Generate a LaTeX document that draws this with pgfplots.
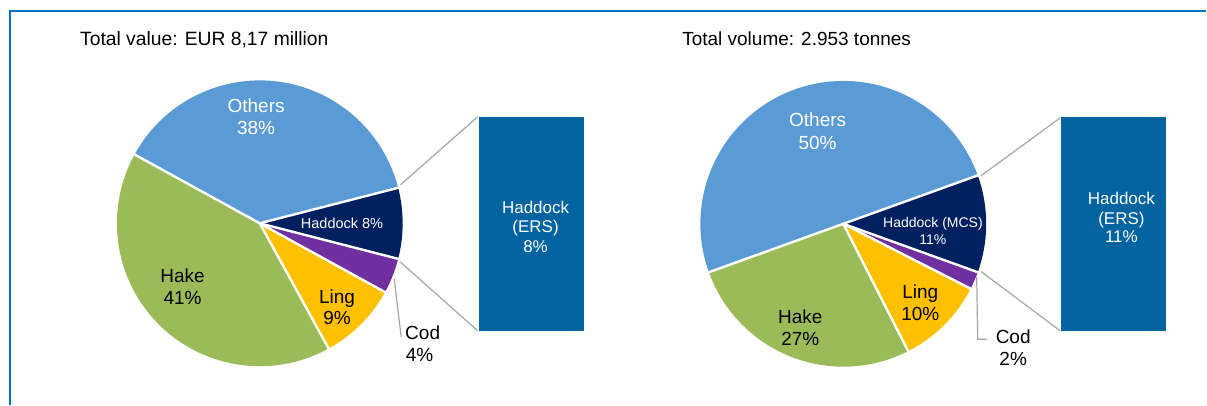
\documentclass[border=0pt]{standalone}
\usepackage{pgfplots}
\pgfplotsset{compat=1.18}
\usepackage{pgfplotstable}
\usepackage{fontspec}
\setmainfont{Liberation Sans}

\definecolor{cOth}{RGB}{91,155,213}
\definecolor{cHad}{RGB}{0,32,96}
\definecolor{cCod}{RGB}{112,48,160}
\definecolor{cLing}{RGB}{255,192,0}
\definecolor{cHake}{RGB}{155,187,89}
\definecolor{cBar}{RGB}{2,99,161}
\definecolor{cFrame}{RGB}{0,112,192}
\definecolor{cLine}{RGB}{166,166,166}

\pgfplotstableread{
name pct
Haddock 8
Cod 4
Ling 9
Hake 41
Others 38
}\valuedata
\pgfplotstableread{
name pct
Haddock 11
Cod 2
Ling 10
Hake 27
Others 50
}\volumedata

\newcommand\drawpie[3]{%
  \pgfplotstablegetelem{0}{pct}\of#1%
  \pgfmathsetmacro\pieang{\pgfplotsretval*1.8}%
  \xdef\curang{\pieang}%
  \foreach \i/\col in {0/cHad,1/cCod,2/cLing,3/cHake,4/cOth}{%
    \pgfplotstablegetelem{\i}{pct}\of#1%
    \pgfmathsetmacro\endang{\curang-\pgfplotsretval*3.6}%
    \fill[\col] (axis cs:#2,#3) -- ++(\curang:143bp) arc[start angle=\curang,end angle=\endang,radius=143bp] -- cycle;
    \xdef\curang{\endang}%
  }%
  \xdef\curang{\pieang}%
  \foreach \i in {0,...,4}{%
    \pgfplotstablegetelem{\i}{pct}\of#1%
    \pgfmathsetmacro\endang{\curang-\pgfplotsretval*3.6}%
    \draw[white,line width=2.4bp] (axis cs:#2,#3) -- ++(\curang:145bp);
    \xdef\curang{\endang}%
  }%
}

\begin{document}
\begin{tikzpicture}
\begin{axis}[
  width=1207bp, height=405bp, scale only axis,
  xmin=0, xmax=1207, ymin=0, ymax=405,
  hide axis, clip=false,
]
\addplot[fill=white, draw=none] coordinates {(0,0) (1207,0) (1207,405) (0,405)} -- cycle;
% frame
\addplot[cFrame, line width=2bp] coordinates {(10,0) (10,394) (1207,394)};

\pgfplotsextra{%
  \drawpie{\valuedata}{260}{181.5}%
  \drawpie{\volumedata}{844}{181}%
}

% secondary bars
\addplot[fill=cBar, draw=none] coordinates {(479,73.3) (584,73.3) (584,287.7) (479,287.7)} -- cycle;
\addplot[fill=cBar, draw=none] coordinates {(1062,73.3) (1167,73.3) (1167,287.5) (1062,287.5)} -- cycle;

% connector lines
\addplot[cLine, line width=1.2bp] coordinates {(400.7,220) (478,288)};
\addplot[cLine, line width=1.2bp] coordinates {(400.7,142.7) (478,74)};
\addplot[cLine, line width=1.2bp] coordinates {(981.7,229) (1061,287)};
\addplot[cLine, line width=1.2bp] coordinates {(981.7,133.3) (1061,74)};

% cod leader lines
\addplot[cLine, line width=1.2bp] coordinates {(394.5,126) (401.5,68)};
\addplot[cLine, line width=1.2bp] coordinates {(977.5,128) (978.5,65.5) (988,65.5)};

% titles
\node[anchor=base west, inner sep=0pt, font=\fontsize{19.3bp}{22.6bp}\selectfont] at (axis cs:80,359) {Total value: EUR 8,17 million};
\node[anchor=base west, inner sep=0pt, font=\fontsize{19bp}{22.6bp}\selectfont] at (axis cs:682.7,359) {Total volume: 2.953 tonnes};

% left pie labels
\begin{scope}[every node/.style={anchor=base, inner sep=0pt, font=\fontsize{19bp}{22.6bp}\selectfont}]
\node[text=white] at (axis cs:256.3,292.5) {Others};
\node[text=white] at (axis cs:256.3,269.9) {38\%};
\node[text=white, font=\fontsize{14.5bp}{17bp}\selectfont] at (axis cs:342.3,176.5) {Haddock 8\%};
\node at (axis cs:182.7,122.2) {Hake};
\node at (axis cs:182.7,99.9) {41\%};
\node at (axis cs:337.3,101.5) {Ling};
\node at (axis cs:337.3,79.9) {9\%};
\node at (axis cs:423,65.4) {Cod};
\node at (axis cs:420,42.8) {4\%};
\node[text=white, font=\fontsize{17bp}{19.7bp}\selectfont] at (axis cs:536,191.6) {Haddock};
\node[text=white, font=\fontsize{17bp}{19.7bp}\selectfont] at (axis cs:536,171.9) {(ERS)};
\node[text=white, font=\fontsize{17bp}{19.7bp}\selectfont] at (axis cs:536,152.2) {8\%};
% right pie labels
\node[text=white] at (axis cs:818.3,278.2) {Others};
\node[text=white] at (axis cs:818.3,255.6) {50\%};
\node[text=white, font=\fontsize{14bp}{16.7bp}\selectfont] at (axis cs:933.7,177.3) {Haddock (MCS)};
\node[text=white, font=\fontsize{14bp}{16.7bp}\selectfont] at (axis cs:933.7,160.7) {11\%};
\node at (axis cs:801,81.5) {Hake};
\node at (axis cs:801,58.9) {27\%};
\node at (axis cs:921,106.5) {Ling};
\node at (axis cs:921,83.9) {10\%};
\node at (axis cs:1014,61.4) {Cod};
\node at (axis cs:1014,38.8) {2\%};
\node[text=white, font=\fontsize{17bp}{19.7bp}\selectfont] at (axis cs:1122.3,199.9) {Haddock};
\node[text=white, font=\fontsize{17bp}{19.7bp}\selectfont] at (axis cs:1122.3,180.5) {(ERS)};
\node[text=white, font=\fontsize{17bp}{19.7bp}\selectfont] at (axis cs:1122.3,162) {11\%};
\end{scope}
\end{axis}
\end{tikzpicture}
\end{document}
